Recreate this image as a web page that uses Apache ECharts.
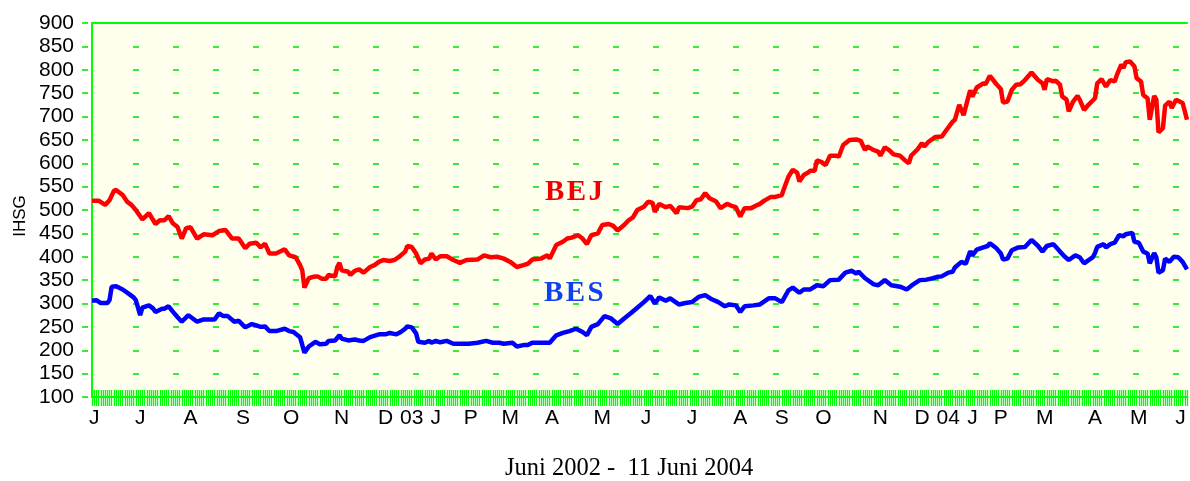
<!DOCTYPE html>
<html>
<head>
<meta charset="UTF-8">
<title>IHSG BEJ / BES</title>
<script src="https://cdn.jsdelivr.net/npm/echarts@6/dist/echarts.min.js"></script>
<style>
  html, body { margin: 0; padding: 0; background: #fff; }
  #chart { width: 1190px; height: 481px; }
</style>
</head>
<body>
<div id="chart"></div>
<script type="text/javascript">
// trading day index (0 = awal Juni 2002 .. 500 = 11 Juni 2004)
var monthLabels = ['J','J','A','S','O','N','D','03','J','P','M','A','M','J','J','A','S','O','N','D','04','J','P','M','A','M','J'];
var monthDays   = [1,22,45,69,91,114,134,146,157,173,191,210,233,253,274,296,315,334,360,379,391,402,415,435,458,478,497];
var dayMax = 500;
var yMin = 100, yMax = 900, yStep = 50;

// BEJ [hari, nilai]
var bejData = [
  [0,520],[3,520],[6,511],[8,521],[10,541],[11,543],[14,532],[16,518],[18,511],[20,500],
  [23,480],[26,493],[29,470],[31,478],[33,478],[35,487],[37,471],[39,464],[41,439],[43,461],
  [45,463],[48,439],[51,448],[55,446],[58,455],[61,457],[64,439],[67,439],[70,418],[72,428],
  [75,430],[77,420],[79,428],[81,407],[84,407],[88,416],[90,403],[93,399],[95,382],[96,371],
  [97,334],[99,354],[101,357],[103,358],[105,353],[107,353],[108,361],[111,358],[112,378],[113,387],
  [114,371],[117,368],[118,361],[120,370],[122,373],[124,366],[127,378],[129,382],[131,389],[133,393],
  [136,391],[138,393],[140,399],[143,411],[144,423],[146,421],[148,407],[150,386],[152,394],[154,396],
  [155,407],[157,394],[159,401],[162,401],[165,393],[168,387],[171,393],[176,394],[179,403],[182,399],
  [185,400],[188,396],[191,389],[194,378],[197,382],[199,385],[201,394],[205,396],[208,403],[209,396],
  [212,425],[215,432],[217,439],[219,441],[222,446],[224,439],[226,427],[228,446],[231,450],[233,468],
  [236,470],[238,466],[240,456],[242,464],[243,468],[245,478],[247,484],[249,500],[252,507],[254,518],
  [256,515],[257,496],[259,513],[262,506],[264,509],[267,493],[268,506],[272,504],[274,507],[276,521],
  [278,523],[280,536],[282,525],[285,518],[287,504],[290,513],[292,509],[294,506],[296,486],[298,504],
  [301,504],[304,511],[305,513],[307,520],[310,528],[312,528],[315,532],[316,546],[318,571],[320,586],
  [322,580],[323,561],[325,575],[327,580],[328,584],[330,584],[331,606],[333,603],[335,596],[337,616],
  [340,616],[341,614],[343,639],[346,650],[349,651],[351,648],[353,628],[354,636],[357,628],[359,625],
  [360,616],[362,634],[364,628],[366,619],[369,616],[371,607],[373,600],[374,616],[377,630],[379,643],
  [380,636],[382,646],[385,656],[388,657],[390,670],[393,689],[394,693],[396,725],[398,703],[400,739],
  [401,756],[402,743],[404,762],[407,771],[408,769],[410,787],[413,769],[415,759],[416,730],[418,732],
  [420,757],[422,768],[424,769],[426,778],[429,794],[432,778],[434,771],[435,757],[436,780],[439,775],
  [440,777],[442,768],[443,743],[445,736],[446,711],[448,732],[450,744],[451,736],[453,714],[455,725],
  [458,739],[459,771],[461,780],[463,764],[465,778],[467,775],[468,789],[470,811],[471,804],[472,816],
  [474,818],[476,807],[477,782],[479,775],[480,746],[482,739],[483,693],[485,744],[486,736],[487,666],
  [489,675],[490,723],[492,732],[493,718],[495,736],[498,729],[500,693]
];

// BES [hari, nilai]
var besData = [
  [0,306],[2,307],[4,301],[7,301],[8,307],[9,336],[11,337],[14,330],[17,320],[19,313],
  [20,307],[22,275],[23,291],[26,296],[28,289],[29,282],[32,289],[33,289],[35,294],[37,282],
  [39,271],[41,261],[44,275],[46,268],[48,261],[51,266],[56,266],[58,279],[60,273],[62,273],
  [65,261],[67,263],[70,249],[73,256],[75,253],[77,250],[79,251],[81,241],[84,241],[88,246],
  [90,241],[92,239],[95,228],[97,195],[99,208],[102,218],[104,213],[107,214],[108,220],[111,221],
  [113,232],[114,225],[117,221],[120,223],[122,221],[124,220],[127,228],[131,234],[134,234],[136,237],
  [139,234],[141,239],[143,246],[144,251],[146,249],[148,236],[149,218],[152,216],[154,220],[155,216],
  [157,220],[159,217],[162,220],[165,214],[168,214],[172,214],[176,216],[180,220],[183,216],[186,216],
  [188,214],[192,216],[194,208],[197,211],[199,211],[201,216],[207,216],[209,216],[212,232],[215,237],
  [218,241],[221,246],[224,239],[226,232],[228,250],[231,256],[234,273],[237,268],[240,256],[243,268],
  [246,279],[249,291],[252,303],[255,316],[257,300],[259,313],[262,306],[264,311],[268,298],[271,301],
  [274,303],[277,314],[280,318],[283,309],[286,303],[289,294],[291,298],[294,296],[296,282],[298,294],
  [302,296],[305,298],[309,311],[312,311],[315,303],[318,328],[320,334],[323,323],[325,330],[328,330],
  [331,339],[334,337],[337,350],[341,351],[344,366],[347,370],[349,364],[350,368],[353,354],[357,341],
  [359,339],[362,350],[365,339],[369,336],[372,330],[375,341],[378,350],[381,351],[384,354],[386,357],
  [388,358],[391,366],[393,368],[394,377],[397,389],[399,385],[401,412],[402,403],[404,415],[407,420],
  [409,423],[410,429],[413,418],[415,407],[416,394],[418,396],[420,414],[423,420],[426,421],[429,436],
  [432,423],[434,411],[436,423],[439,427],[442,411],[444,401],[446,393],[449,403],[451,399],[453,386],
  [457,399],[458,408],[459,421],[462,427],[463,420],[465,427],[467,430],[469,446],[471,444],[472,448],
  [475,451],[476,432],[478,430],[480,411],[482,407],[483,386],[485,408],[486,399],[487,366],[489,371],
  [490,396],[492,389],[494,400],[496,399],[498,389],[500,373]
];

var green = '#00ff00';
var dashGreen = '#33ee33';
var sans = '"Liberation Sans", Arial, sans-serif';
var serif = '"Liberation Serif", "Times New Roman", serif';

// pola garis putus-putus grid: mulai 41px dari sumbu, tiap 40px
var gridDash = [0, 41];
for (var i = 0; i < 30; i++) { gridDash.push(6, 34); }

var labelMap = {};
for (var k = 0; k < monthDays.length; k++) { labelMap[monthDays[k]] = monthLabels[k]; }

var chart = echarts.init(document.getElementById('chart'));
var option = {
  animation: false,
  backgroundColor: '#ffffff',
  grid: {
    left: 92, right: 0, top: 23, bottom: 84,
    show: true, backgroundColor: '#ffffee', borderWidth: 0
  },
  xAxis: [
    {
      type: 'value', min: 0, max: dayMax, interval: 1, position: 'bottom',
      axisLine: { show: true, lineStyle: { color: green, width: 2 } },
      axisTick: { show: true, inside: true, length: 7, lineStyle: { color: green, width: 1.3 } },
      axisLabel: {
        margin: 11, color: '#000', fontSize: 21, fontFamily: sans,
        showMinLabel: true, showMaxLabel: true,
        formatter: function (v) { return labelMap[v] || ''; }
      },
      splitLine: { show: false }
    },
    {
      type: 'value', min: 0, max: dayMax, interval: 1, position: 'bottom',
      axisLine: { show: false },
      axisTick: { show: true, inside: false, length: 9, lineStyle: { color: green, width: 1.3 } },
      axisLabel: { show: false },
      splitLine: { show: false }
    },
    {
      type: 'value', min: 0, max: dayMax, position: 'top',
      axisLine: { show: true, lineStyle: { color: green, width: 2 } },
      axisTick: { show: false }, axisLabel: { show: false }, splitLine: { show: false }
    }
  ],
  yAxis: {
    type: 'value', min: yMin, max: yMax, interval: yStep,
    axisLine: { show: true, lineStyle: { color: green, width: 2 } },
    axisTick: { show: true, length: 10, lineStyle: { color: dashGreen, width: 2, type: [0, 4, 6, 10] } },
    axisLabel: { margin: 18, color: '#000', fontSize: 21, fontFamily: sans },
    splitLine: { show: true, lineStyle: { color: dashGreen, width: 2, type: gridDash } }
  },
  series: [
    {
      name: 'BEJ', type: 'line', data: bejData, showSymbol: false,
      lineStyle: { color: '#ff0000', width: 4.5 }, z: 3
    },
    {
      name: 'BES', type: 'line', data: besData, showSymbol: false,
      lineStyle: { color: '#0000ff', width: 4.5 }, z: 3
    }
  ],
  graphic: [
    { type: 'text', x: 20, y: 216, rotation: Math.PI / 2, z: 10,
      style: { text: 'IHSG', font: '17px ' + sans, fill: '#000', align: 'center', verticalAlign: 'middle' } },
    { type: 'text', left: 545, top: 178, z: 10,
      style: { text: 'B\u200aE\u200aJ', font: 'bold 29px ' + serif, fill: '#f00000' } },
    { type: 'text', left: 544, top: 279, z: 10,
      style: { text: 'B\u200aE\u200aS', font: 'bold 29px ' + serif, fill: '#1040f0' } },
    { type: 'text', left: 505, top: 456, z: 10,
      style: { text: 'Juni 2002 -  11 Juni 2004', font: '24.5px ' + serif, fill: '#000' } }
  ]
};
chart.setOption(option);
</script>
</body>
</html>
